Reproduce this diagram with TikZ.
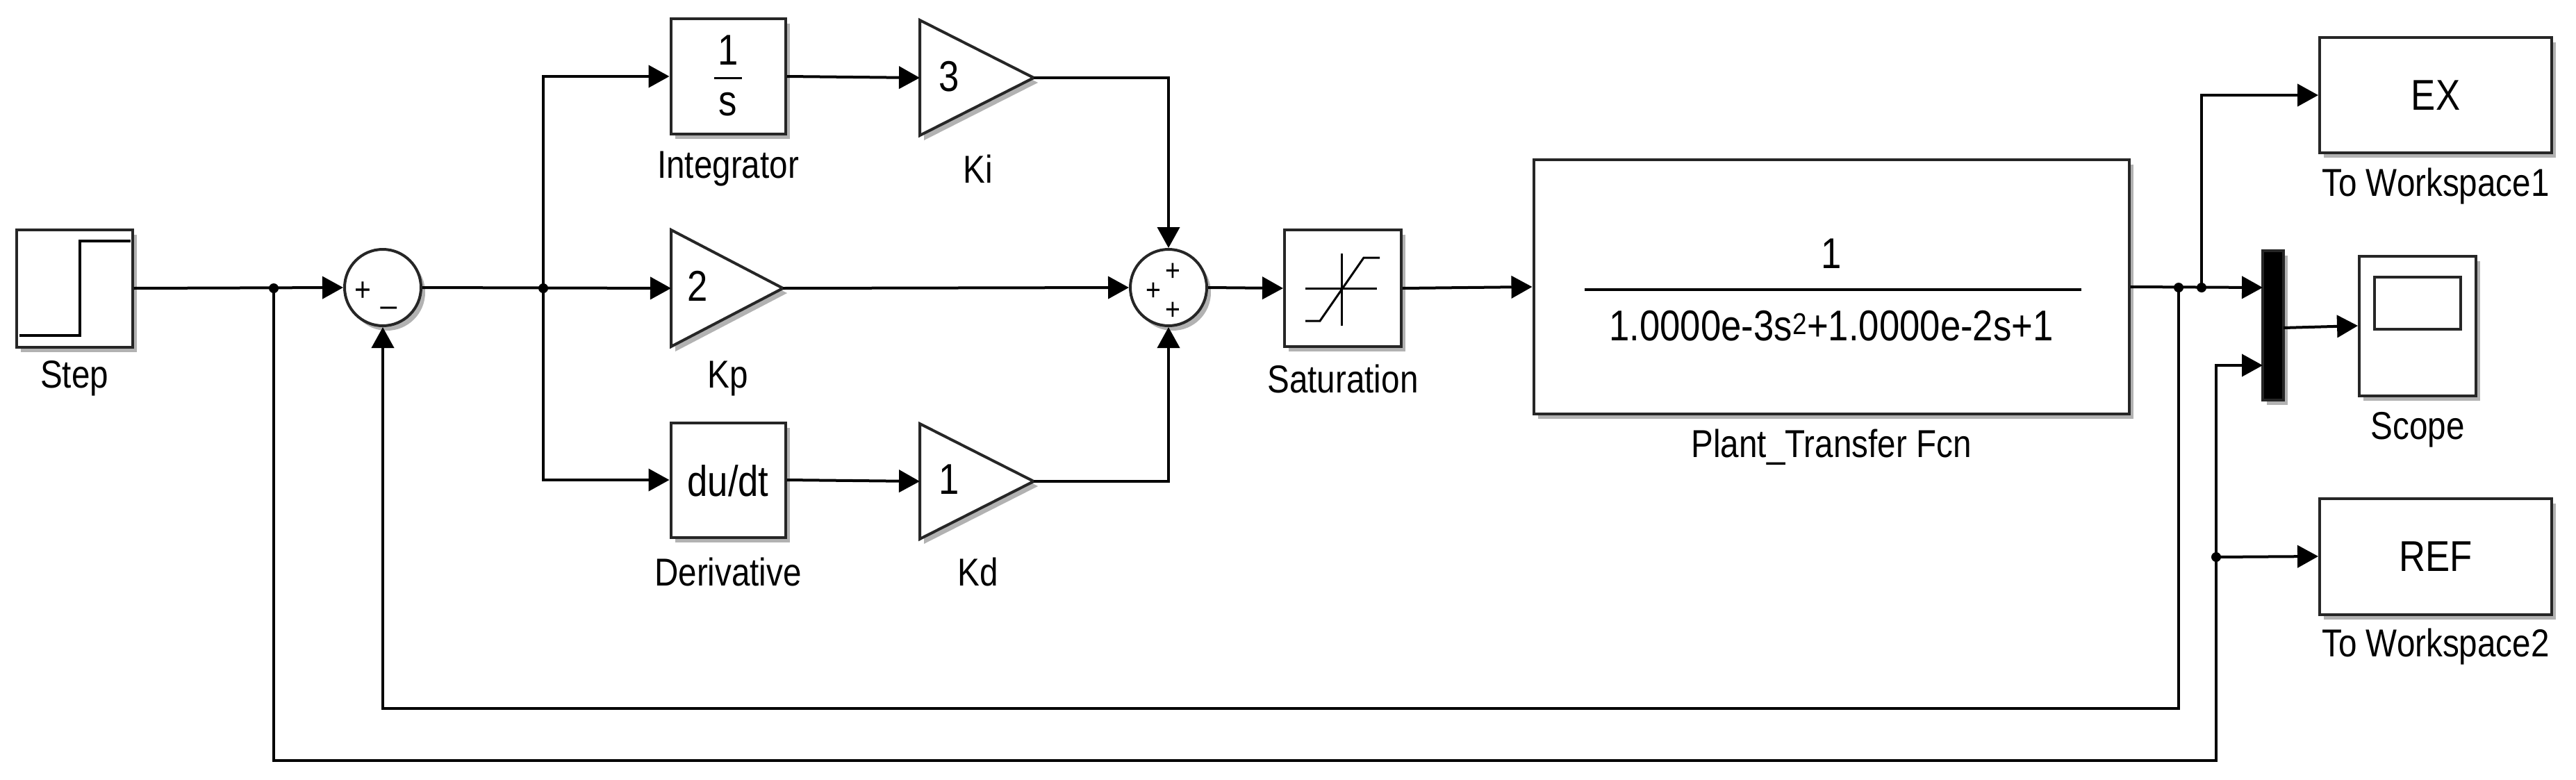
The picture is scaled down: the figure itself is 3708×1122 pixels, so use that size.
\documentclass[tikz,border=0pt]{standalone}
\usepackage{fontspec}
\setmainfont{Liberation Sans}[FakeStretch=0.85]
\usetikzlibrary{arrows.meta,shadows,calc}
\begin{document}
\begin{tikzpicture}[x=1pt,y=-1pt,
  line width=4pt,
  blk/.style={draw=black!85,fill=white,line width=4pt,inner sep=0pt,
    drop shadow={shadow xshift=6pt,shadow yshift=-7pt,fill=black!30,opacity=1}},
  sumc/.style={blk,circle,minimum size=110pt},
  lab/.style={font=\fontsize{56}{60}\selectfont,inner sep=0pt},
  txt/.style={font=\fontsize{62}{66}\selectfont,inner sep=0pt},
  ar/.style={-{Triangle[length=30pt,width=32pt]}},
  dot/.style={circle,fill=black,inner sep=0pt,minimum size=14pt}]
\useasboundingbox (0,0) rectangle (3708,1122);
\fill[white] (0,0) rectangle (3708,1122);
% blocks
\node[blk,minimum width=167pt,minimum height=169pt] (step) at (107,415) {};
\draw[line width=4pt] (28,483) -- (115,483) -- (115,347) -- (188,347);
\node[sumc] (sum1) at (551,414) {};
\node[txt,font=\fontsize{48}{50}\selectfont] (s1p) at (522,420) {+};
\node[txt,font=\fontsize{48}{50}\selectfont] (s1m) at (560,440) {\_};
\node[blk,minimum width=165pt,minimum height=166pt] (int) at (1048,110) {};
\node[txt] (intn) at (1048,72) {1};
\draw[line width=3pt] (1028,112) -- (1068,112);
\node[txt] (ints) at (1048,150) {s};
\path[blk] (1324,29) -- (1488,112) -- (1324,195) -- cycle;
\coordinate (kiin) at (1324,112); \coordinate (kiout) at (1488,112);
\node[txt] (kiv) at (1366,110) {3};
\path[blk] (966,331) -- (1127,415) -- (966,499) -- cycle;
\coordinate (kpin) at (966,415); \coordinate (kpout) at (1127,415);
\node[txt] (kpv) at (1004,412) {2};
\node[blk,minimum width=165pt,minimum height=165pt] (der) at (1048,691) {};
\node[txt] (derv) at (1048,692) {du/dt};
\path[blk] (1324,610) -- (1488,693) -- (1324,776) -- cycle;
\coordinate (kdin) at (1324,693); \coordinate (kdout) at (1488,693);
\node[txt] (kdv) at (1366,690) {1};
\node[sumc] (sum2) at (1682,414) {};
\node[txt,font=\fontsize{44}{46}\selectfont] (s2a) at (1688,392) {+};
\node[txt,font=\fontsize{44}{46}\selectfont] (s2b) at (1660,420) {+};
\node[txt,font=\fontsize{44}{46}\selectfont] (s2c) at (1688,448) {+};
\node[blk,minimum width=168pt,minimum height=168pt] (sat) at (1933,415) {};
\draw[line width=3pt] (1879,415) -- (1982,415) (1931,365) -- (1931,469);
\draw[line width=3pt] (1879,462) -- (1900,462) -- (1963,371) -- (1986,371);
\node[blk,minimum width=857pt,minimum height=366pt] (plant) at (2636,413) {};
\node[txt] (pn) at (2636,365) {1};
\draw[line width=3.5pt] (2281,417) -- (2996,417);
\node[txt] (pd) at (2636,469) {1.0000e-3s\textsuperscript{2}+1.0000e-2s+1};
\node[blk,minimum width=334pt,minimum height=166pt] (ex) at (3506,137) {};
\node[txt] (exv) at (3506,137) {EX};
\node[blk,fill=black,minimum width=30pt,minimum height=215pt] (mux) at (3272,468) {};
\node[blk,minimum width=168pt,minimum height=201pt] (scope) at (3480,469) {};
\draw[line width=4pt,draw=black!85] (3418,399) rectangle (3542,474);
\node[blk,minimum width=334pt,minimum height=167pt] (ref) at (3506,801) {};
\node[txt] (refv) at (3506,801) {REF};
% labels
\node[lab] (l1) at (107,545) {Step};
\node[lab] (l2) at (1048,243) {Integrator};
\node[lab] (l3) at (1408,243) {Ki};
\node[lab] (l4) at (1048,545) {Kp};
\node[lab] (l5) at (1048,823) {Derivative};
\node[lab] (l6) at (1408,823) {Kd};
\node[lab] (l7) at (1933,545) {Saturation};
\node[lab] (l8) at (2636,644) {Plant\_Transfer Fcn};
\node[lab] (l9) at (3506,268) {To Workspace1};
\node[lab] (l10) at (3480,619) {Scope};
\node[lab] (l11) at (3506,931) {To Workspace2};
% junctions
\node[dot] (j1) at (394,415) {};
\node[dot] (j2) at (782,415) {};
\node[dot] (j3) at (3136,414) {};
\node[dot] (j4) at (3169,414) {};
\node[dot] (j5) at (3190,802) {};
\coordinate (mi1) at (3257,414);
\coordinate (mi2) at (3257,526);
\coordinate (mo) at (3287,472);
% connectors
\draw[ar] (step.east) -- (sum1.west);
\draw[ar] (sum1.east) -- (kpin);
\draw[ar] (j2.center) |- (int.west);
\draw[ar] (j2.center) |- (der.west);
\draw[ar] (int.east) -- (kiin);
\draw[ar] (der.east) -- (kdin);
\draw[ar] (kiout) -| (sum2.north);
\draw[ar] (kdout) -| (sum2.south);
\draw[ar] (kpout) -- (sum2.west);
\draw[ar] (sum2.east) -- (sat.west);
\draw[ar] (sat.east) -- (plant.west);
\draw[ar] (plant.east) -- (mi1);
\draw[ar] (j4.center) |- (ex.west);
\draw[ar] (j3.center) -- (3136,1020) -| (sum1.south);
\draw[ar] (j1.center) -- (394,1095) -- (3190,1095) |- (mi2);
\draw[ar] (j5.center) -- (ref.west);
\draw[ar] (mo) -- (scope.west);
\end{tikzpicture}
\end{document}
